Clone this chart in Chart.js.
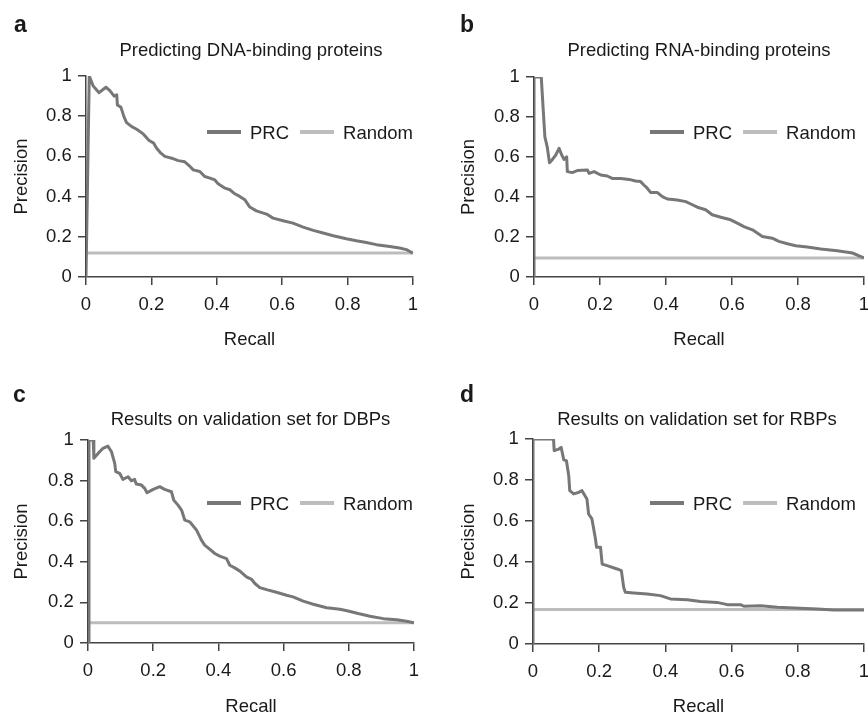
<!DOCTYPE html>
<html><head><meta charset="utf-8">
<script src="https://cdn.jsdelivr.net/npm/chart.js@4.4.1/dist/chart.umd.min.js"></script>
<style>
html,body{margin:0;padding:0;background:#fff;}
#wrap{position:relative;width:868px;height:714px;overflow:hidden;background:#fff;}
#wrap canvas{position:absolute;}
</style></head><body>
<div id="wrap">
<canvas id="pa" width="434" height="357" style="left:0;top:0;width:434px;height:357px"></canvas>
<canvas id="pb" width="434" height="357" style="left:434px;top:0;width:434px;height:357px"></canvas>
<canvas id="pc" width="434" height="380" style="left:0;top:357px;width:434px;height:380px"></canvas>
<canvas id="pd" width="434" height="380" style="left:434px;top:357px;width:434px;height:380px"></canvas>
</div>
<script>
// ---- data ----
const tickValues = [0, 0.2, 0.4, 0.6, 0.8, 1];
const tickLabels = ['0', '0.2', '0.4', '0.6', '0.8', '1'];
const seriesLabels = ['PRC', 'Random'];
const xAxisTitle = 'Recall';
const yAxisTitle = 'Precision';
const panelLetters = ['a', 'b', 'c', 'd'];
const panelTitles = ['Predicting DNA-binding proteins', 'Predicting RNA-binding proteins',
  'Results on validation set for DBPs', 'Results on validation set for RBPs'];

const recallA = [0, 0.010, 0.022, 0.040, 0.061, 0.073, 0.086, 0.094, 0.096, 0.107, 0.116, 0.124, 0.140, 0.155, 0.175, 0.193, 0.207, 0.216, 0.229, 0.241, 0.262, 0.282, 0.302, 0.318, 0.328, 0.348, 0.363, 0.379, 0.394, 0.404, 0.425, 0.440, 0.455, 0.470, 0.486, 0.501, 0.521, 0.552, 0.572, 0.603, 0.633, 0.664, 0.695, 0.725, 0.756, 0.796, 0.827, 0.857, 0.888, 0.929, 0.959, 0.980, 1.0];
const precisionA = [0, 1.0, 0.95, 0.917, 0.944, 0.927, 0.90, 0.906, 0.856, 0.844, 0.798, 0.768, 0.748, 0.735, 0.712, 0.679, 0.666, 0.641, 0.616, 0.60, 0.591, 0.579, 0.573, 0.55, 0.533, 0.525, 0.50, 0.492, 0.483, 0.464, 0.442, 0.434, 0.414, 0.401, 0.384, 0.348, 0.329, 0.313, 0.293, 0.280, 0.268, 0.248, 0.232, 0.219, 0.205, 0.190, 0.180, 0.172, 0.161, 0.152, 0.144, 0.136, 0.119];
const randomA = 0.12;

const recallB = [0, 0, 0.022, 0.028, 0.033, 0.040, 0.047, 0.056, 0.066, 0.076, 0.084, 0.091, 0.099, 0.101, 0.116, 0.131, 0.162, 0.167, 0.182, 0.202, 0.222, 0.237, 0.263, 0.288, 0.308, 0.323, 0.333, 0.343, 0.354, 0.374, 0.389, 0.404, 0.434, 0.460, 0.475, 0.495, 0.520, 0.540, 0.566, 0.596, 0.616, 0.636, 0.662, 0.692, 0.722, 0.742, 0.768, 0.793, 0.828, 0.869, 0.919, 0.965, 0.985, 1.0];
const precisionB = [0, 1, 1, 0.834, 0.701, 0.651, 0.571, 0.588, 0.610, 0.643, 0.610, 0.588, 0.601, 0.527, 0.522, 0.532, 0.535, 0.518, 0.527, 0.51, 0.505, 0.493, 0.493, 0.488, 0.480, 0.477, 0.460, 0.444, 0.422, 0.422, 0.402, 0.390, 0.385, 0.377, 0.365, 0.349, 0.336, 0.311, 0.299, 0.286, 0.269, 0.252, 0.236, 0.203, 0.194, 0.178, 0.166, 0.156, 0.150, 0.140, 0.131, 0.120, 0.106, 0.095];
const randomB = 0.095;

const recallC = [0, 0.003, 0.016, 0.018, 0.031, 0.046, 0.061, 0.072, 0.082, 0.085, 0.097, 0.107, 0.123, 0.133, 0.143, 0.148, 0.164, 0.174, 0.181, 0.200, 0.220, 0.235, 0.256, 0.263, 0.276, 0.287, 0.297, 0.312, 0.333, 0.348, 0.358, 0.374, 0.389, 0.404, 0.425, 0.435, 0.450, 0.466, 0.486, 0.502, 0.512, 0.527, 0.548, 0.578, 0.609, 0.629, 0.660, 0.691, 0.732, 0.773, 0.798, 0.829, 0.865, 0.906, 0.947, 0.977, 1.0];
const precisionC = [0, 1, 1, 0.91, 0.934, 0.959, 0.970, 0.942, 0.885, 0.844, 0.836, 0.806, 0.819, 0.799, 0.806, 0.783, 0.778, 0.762, 0.740, 0.757, 0.770, 0.757, 0.745, 0.704, 0.679, 0.655, 0.605, 0.597, 0.556, 0.507, 0.482, 0.461, 0.441, 0.428, 0.416, 0.383, 0.370, 0.354, 0.326, 0.313, 0.293, 0.273, 0.263, 0.25, 0.235, 0.227, 0.206, 0.191, 0.174, 0.166, 0.158, 0.145, 0.132, 0.120, 0.115, 0.107, 0.10];
const randomC = 0.10;

const recallD = [0, 0, 0.062, 0.064, 0.078, 0.085, 0.093, 0.101, 0.108, 0.111, 0.123, 0.138, 0.148, 0.163, 0.168, 0.178, 0.188, 0.192, 0.204, 0.209, 0.224, 0.254, 0.267, 0.274, 0.279, 0.304, 0.345, 0.385, 0.415, 0.466, 0.506, 0.556, 0.587, 0.627, 0.637, 0.688, 0.738, 0.788, 0.859, 0.909, 1.0];
const precisionD = [0, 1, 1, 0.943, 0.951, 0.959, 0.898, 0.894, 0.821, 0.748, 0.732, 0.740, 0.748, 0.707, 0.634, 0.610, 0.520, 0.472, 0.472, 0.390, 0.382, 0.366, 0.358, 0.276, 0.252, 0.249, 0.244, 0.236, 0.220, 0.216, 0.207, 0.203, 0.192, 0.192, 0.184, 0.187, 0.179, 0.176, 0.171, 0.166, 0.166];
const randomD = 0.168;

// ---- layout / style ----
const FONT = "'Liberation Sans', Arial, Helvetica, sans-serif";
const FS = 18.5;
const PRC_COLOR = '#777777';
const RANDOM_COLOR = '#bdbdbd';
const AXIS_COLOR = '#444444';
const TEXT_COLOR = '#1a1a1a';

const panels = [
  { id: 'pa', w: 434, h: 357, area: { l: 86, t: 76, r: 413, b: 277 }, yTitleX: 22, xTitleY: 340,
    letter: { x: 14, y: 32 }, title: { x: 251, y: 56 }, legend: { x: 207, y: 132 },
    recall: recallA, precision: precisionA, random: randomA },
  { id: 'pb', w: 434, h: 357, area: { l: 100, t: 77, r: 430, b: 277 }, yTitleX: 35, xTitleY: 340,
    letter: { x: 26, y: 32 }, title: { x: 265, y: 56 }, legend: { x: 216, y: 132 },
    recall: recallB, precision: precisionB, random: randomB },
  { id: 'pc', w: 434, h: 380, area: { l: 88, t: 83, r: 414, b: 286 }, yTitleX: 22, xTitleY: 350,
    letter: { x: 13, y: 45 }, title: { x: 250.5, y: 67.5 }, legend: { x: 207, y: 146 },
    recall: recallC, precision: precisionC, random: randomC },
  { id: 'pd', w: 434, h: 380, area: { l: 99, t: 82, r: 430, b: 287 }, yTitleX: 35, xTitleY: 350,
    letter: { x: 26, y: 45 }, title: { x: 263, y: 67.5 }, legend: { x: 216, y: 146 },
    recall: recallD, precision: precisionD, random: randomD }
];

const panelTextPlugin = {
  id: 'panelText',
  afterDraw(chart, args, opts) {
    const ctx = chart.ctx;
    ctx.save();
    ctx.fillStyle = TEXT_COLOR;
    ctx.textBaseline = 'alphabetic';
    ctx.textAlign = 'left';
    ctx.font = 'bold 23px ' + FONT;
    ctx.fillText(opts.letter, opts.letterPos.x, opts.letterPos.y);
    ctx.textAlign = 'center';
    ctx.font = FS + 'px ' + FONT;
    ctx.fillText(opts.title, opts.titlePos.x, opts.titlePos.y);
    // legend
    let x = opts.legendPos.x;
    const y = opts.legendPos.y;
    ctx.textAlign = 'left';
    chart.data.datasets.forEach(ds => {
      ctx.strokeStyle = ds.borderColor;
      ctx.lineWidth = 4;
      ctx.lineCap = 'butt';
      ctx.beginPath();
      ctx.moveTo(x, y);
      ctx.lineTo(x + 34, y);
      ctx.stroke();
      x += 34 + 9;
      ctx.fillStyle = TEXT_COLOR;
      ctx.fillText(ds.label, x, y + 6.6);
      x += ctx.measureText(ds.label).width + 11;
    });
    ctx.restore();
  }
};

function buildTicks(scale) {
  scale.ticks = tickValues.map(v => ({ value: v }));
}

panels.forEach((p, i) => {
  const ctx = document.getElementById(p.id).getContext('2d');
  const lh = FS * 1.2;
  new Chart(ctx, {
    type: 'line',
    data: {
      datasets: [
        { label: seriesLabels[0], data: p.recall.map((r, k) => ({ x: r, y: p.precision[k] })),
          borderColor: PRC_COLOR, borderWidth: 3, pointRadius: 0, tension: 0, fill: false,
          borderJoinStyle: 'round' },
        { label: seriesLabels[1], data: [{ x: 0, y: p.random }, { x: 1, y: p.random }],
          borderColor: RANDOM_COLOR, borderWidth: 3, pointRadius: 0, tension: 0, fill: false }
      ]
    },
    options: {
      responsive: false,
      animation: false,
      devicePixelRatio: 1,
      layout: { padding: { left: 0, top: p.area.t, right: p.w - p.area.r, bottom: 0 } },
      plugins: {
        legend: { display: false },
        tooltip: { enabled: false },
        title: { display: false },
        panelText: { letter: panelLetters[i], title: panelTitles[i], letterPos: p.letter,
          titlePos: p.title, legendPos: p.legend }
      },
      scales: {
        x: {
          type: 'linear', min: 0, max: 1,
          afterBuildTicks: buildTicks,
          afterFit(s) { s.height = p.h - p.area.b; s.paddingLeft = 0; s.paddingRight = 0; },
          grid: { drawOnChartArea: false, drawTicks: true, tickLength: 8, color: AXIS_COLOR, lineWidth: 1.5 },
          border: { display: true, color: AXIS_COLOR, width: 1.5 },
          ticks: { padding: 8.6, color: TEXT_COLOR, font: { family: FONT, size: FS },
            maxRotation: 0, autoSkip: false, callback: (v, k) => tickLabels[k] },
          title: { display: true, text: xAxisTitle, color: TEXT_COLOR, font: { family: FONT, size: FS },
            padding: { top: 0, bottom: (p.h - p.xTitleY) - lh / 2 } }
        },
        y: {
          type: 'linear', min: 0, max: 1,
          afterBuildTicks: buildTicks,
          afterFit(s) { s.width = p.area.l; s.paddingTop = 0; s.paddingBottom = 0; },
          grid: { drawOnChartArea: false, drawTicks: true, tickLength: 8, color: AXIS_COLOR, lineWidth: 1.5 },
          border: { display: true, color: AXIS_COLOR, width: 1.5 },
          ticks: { padding: 6.3, color: TEXT_COLOR, font: { family: FONT, size: FS },
            autoSkip: false, callback: (v, k) => tickLabels[k] },
          title: { display: true, text: yAxisTitle, color: TEXT_COLOR, font: { family: FONT, size: FS },
            padding: { top: p.yTitleX - lh / 2, bottom: 0 } }
        }
      }
    },
    plugins: [panelTextPlugin]
  });
});
</script>
</body></html>
